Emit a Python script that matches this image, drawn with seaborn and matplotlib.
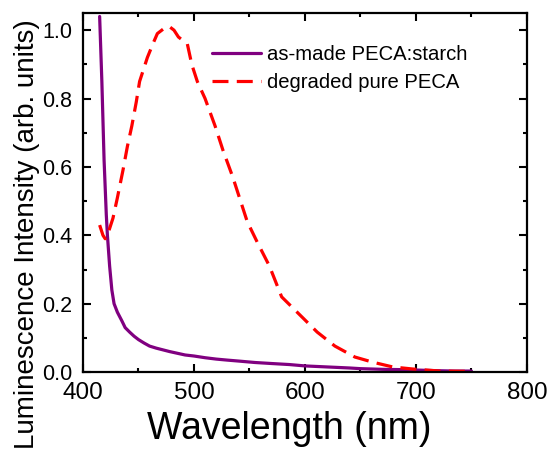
import numpy as np
import pandas as pd
import seaborn as sns
import matplotlib.pyplot as plt
from matplotlib.ticker import MultipleLocator

# as-made PECA:starch (solid purple)
wl_starch = [415, 417, 419, 421, 422, 424, 426, 428, 431, 435, 438, 442, 446, 450, 455,
             460, 466, 472, 478, 485, 492, 500, 510, 520, 530, 541, 555, 570, 586,
             600, 620, 640, 650, 670, 690, 700, 720, 735, 750]
int_starch = [1.04, 0.85, 0.62, 0.46, 0.40, 0.31, 0.24, 0.20, 0.175, 0.15, 0.13, 0.117, 0.105, 0.095, 0.085,
              0.076, 0.07, 0.065, 0.06, 0.055, 0.05, 0.047, 0.042, 0.038, 0.035, 0.032, 0.028, 0.025, 0.022,
              0.018, 0.015, 0.012, 0.01, 0.008, 0.007, 0.006, 0.004, 0.003, 0.003]

# degraded pure PECA (dashed red)
wl_pure = [415, 418, 420, 422, 424, 427, 429, 431, 436, 440, 444, 448, 451, 455, 458, 463,
           467, 471, 475, 478, 482, 486, 490, 494, 498, 503, 510, 519, 526, 535, 541,
           548, 557, 568, 579, 593, 611, 627, 645, 661, 679, 697, 721, 751]
int_pure = [0.43, 0.40, 0.39, 0.40, 0.42, 0.45, 0.48, 0.51, 0.59, 0.66, 0.72, 0.79, 0.85, 0.89, 0.92, 0.96,
            0.99, 1.00, 1.01, 1.01, 1.00, 0.98, 0.97, 0.96, 0.90, 0.85, 0.80, 0.72, 0.65, 0.57, 0.51,
            0.44, 0.38, 0.31, 0.22, 0.175, 0.117, 0.076, 0.044, 0.029, 0.015, 0.009, 0.003, 0.002]

label_starch = "as-made PECA:starch"
label_pure = "degraded pure PECA"

df = pd.concat([
    pd.DataFrame({"wl": wl_starch, "val": int_starch, "sample": label_starch}),
    pd.DataFrame({"wl": wl_pure, "val": int_pure, "sample": label_pure}),
])

sns.set_style("ticks")
plt.rcParams["font.family"] = ["Liberation Sans", "DejaVu Sans"]
for k in ["text.color", "axes.labelcolor", "xtick.color", "ytick.color", "axes.edgecolor"]:
    plt.rcParams[k] = "black"

fig = plt.figure(figsize=(5.57, 4.51), dpi=100)
ax = fig.add_axes([0.149, 0.175, 0.797, 0.796])

sns.lineplot(data=df, x="wl", y="val", hue="sample", style="sample",
             palette={label_starch: "#800080", label_pure: "#ff0000"},
             dashes={label_starch: "", label_pure: (5, 2.6)},
             linewidth=2.3, sort=False, estimator=None, ax=ax)

ax.set_xlim(400, 800)
ax.set_ylim(0, 1.05)
ax.xaxis.set_major_locator(MultipleLocator(100))
ax.xaxis.set_minor_locator(MultipleLocator(50))
ax.yaxis.set_major_locator(MultipleLocator(0.2))
ax.yaxis.set_minor_locator(MultipleLocator(0.1))
ax.yaxis.set_major_formatter(plt.FuncFormatter(lambda v, p: f"{v:.1f}"))

ax.tick_params(which="both", direction="in", top=True, right=True, width=1.5)
ax.tick_params(which="major", length=6)
ax.tick_params(which="minor", length=3)
ax.tick_params(axis="x", labeltop=False, labelsize=17.5, pad=7)
ax.tick_params(axis="y", labelsize=15.5, pad=7.5)
for s in ax.spines.values():
    s.set_linewidth(1.6)

ax.set_xlabel("Wavelength (nm)", fontsize=27)
ax.xaxis.set_label_coords(0.464, -0.109)
ax.set_ylabel("Luminescence Intensity (arb. units)", fontsize=20)
ax.yaxis.set_label_coords(-0.097, 0.384)

leg = ax.legend(loc="upper left", bbox_to_anchor=(0.272, 0.934), frameon=False,
                fontsize=14.6, handlelength=2.4, handletextpad=0.3, labelspacing=0.45,
                borderaxespad=0)

fig.savefig("out.png", dpi=100)
